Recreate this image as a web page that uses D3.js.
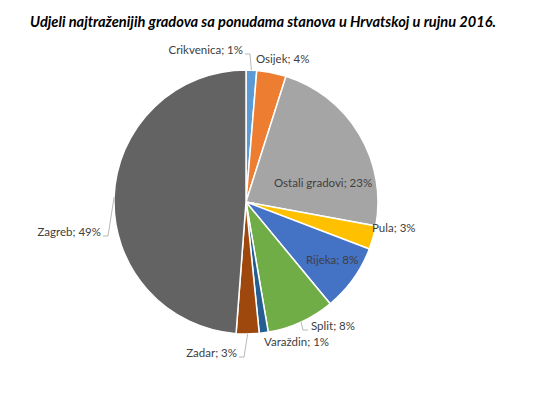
<!DOCTYPE html>
<html>
<head>
<meta charset="utf-8">
<script src="https://cdn.jsdelivr.net/npm/d3@7"></script>
<style>
  body { margin: 0; background: #fff; }
  text { font-family: Lato, "Noto Sans", sans-serif; }
</style>
</head>
<body>
<div id="chart"></div>
<script>
// data (shares, %)
let cities = ["Crikvenica", "Osijek", "Ostali gradovi", "Pula", "Rijeka", "Split", "Varaždin", "Zadar", "Zagreb"];
let shares = [1.3, 3.6, 23.0, 2.9, 8.2, 8.3, 1.1, 2.8, 48.8];
let colors = ["#5B9BD5", "#ED7D31", "#A5A5A5", "#FFC000", "#4472C4", "#70AD47", "#255E91", "#9E480E", "#636363"];

let width = 536;
let height = 395;
let cx = 246, cy = 202;
let radius = 132;

// label placement, offsets from the pie centre (Excel "best fit" look)
// [dx, dy, anchor, leader]
let labelLayout = [
    [-3, -152, "end", true],
    [10, -143, "start", false],
    [28, -19, "start", false],
    [126, 26, "start", false],
    [60, 58, "start", false],
    [65, 124, "start", true],
    [18, 140, "start", false],
    [-9, 151, "end", true],
    [-145, 30, "end", true]
];

let svg = d3.select("#chart")
    .append("svg")
    .attr("width", width)
    .attr("height", height);

svg.append("text")
    .attr("x", 263)
    .attr("y", 27)
    .attr("text-anchor", "middle")
    .style("font-size", "14.6px")
    .style("font-weight", "bold")
    .style("font-style", "italic")
    .attr("fill", "#000")
    .text("Udjeli najtraženijih gradova sa ponudama stanova u Hrvatskoj u rujnu 2016.");

let g = svg.append("g")
    .attr("transform", "translate(" + cx + "," + cy + ")");

let pie = d3.pie()
    .sort(null)
    .value(function(d) { return d; });
let data_ready = pie(shares);

let arcGenerator = d3.arc()
    .innerRadius(0)
    .outerRadius(radius);

g.selectAll("path.slice")
    .data(data_ready)
    .enter()
    .append("path")
    .attr("class", "slice")
    .attr("d", arcGenerator)
    .attr("fill", function(d, i) { return colors[i]; })
    .attr("stroke", "white")
    .style("stroke-width", "1.5px");

// leader lines
let line = d3.line();
data_ready.forEach(function(d, i) {
    let lay = labelLayout[i];
    if (!lay[3]) return;
    let a = (d.startAngle + d.endAngle) / 2;
    let px = radius * Math.sin(a), py = -radius * Math.cos(a);
    let lx = lay[0] + (lay[2] === "end" ? 2 : -3);
    let ly = lay[1] + 4;
    let ex = lx + (lay[2] === "end" ? 5 : -5);
    g.append("path")
        .attr("d", line([[lx, ly], [ex, ly], [px, py]]))
        .attr("fill", "none")
        .attr("stroke", "#A6A6A6")
        .style("stroke-width", "0.8px");
});

g.selectAll("text.lbl")
    .data(data_ready)
    .enter()
    .append("text")
    .attr("class", "lbl")
    .attr("x", function(d, i) { return labelLayout[i][0]; })
    .attr("y", function(d, i) { return labelLayout[i][1]; })
    .attr("dy", "0.35em")
    .attr("text-anchor", function(d, i) { return labelLayout[i][2]; })
    .style("font-size", "11.5px")
    .attr("fill", "#404040")
    .text(function(d, i) { return cities[i] + "; " + Math.round(d.data) + "%"; });
</script>
</body>
</html>
